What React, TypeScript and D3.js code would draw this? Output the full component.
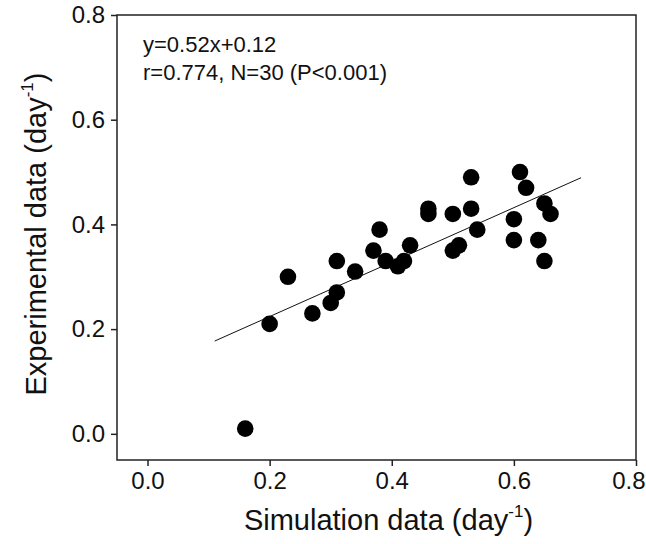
import { useEffect, useRef } from 'react';
import * as d3 from 'd3';

// Simulation (x) vs experimental (y) rates, day^-1
const simulation = [
  0.16, 0.2, 0.23, 0.27, 0.3, 0.31, 0.31, 0.34, 0.37, 0.38, 0.39, 0.41, 0.42, 0.43, 0.46,
  0.46, 0.5, 0.5, 0.51, 0.53, 0.53, 0.54, 0.6, 0.6, 0.61, 0.62, 0.64, 0.65, 0.65, 0.66,
];
const experimental = [
  0.01, 0.21, 0.3, 0.23, 0.25, 0.27, 0.33, 0.31, 0.35, 0.39, 0.33, 0.32, 0.33, 0.36, 0.43,
  0.42, 0.42, 0.35, 0.36, 0.49, 0.43, 0.39, 0.41, 0.37, 0.5, 0.47, 0.37, 0.44, 0.33, 0.42,
];
const ticks = [0.0, 0.2, 0.4, 0.6, 0.8];
// regression y = 0.52x + 0.12, drawn over this x span
const fitSlope = 0.52;
const fitIntercept = 0.12;
const fitRange = [0.11, 0.71];
const notes = ['y=0.52x+0.12', 'r=0.774, N=30 (P<0.001)'];

const font = '"Liberation Sans", Arial, sans-serif';

const App = () => {
  const chartRef = useRef<SVGSVGElement>(null);

  useEffect(() => {
    const svg = d3.select(chartRef.current);
    svg.selectAll('*').remove();

    const left = 117,
      right = 636,
      top = 15,
      bottom = 460;

    const x = d3.scaleLinear().domain([-0.05, 0.8]).range([left, right]);
    const y = d3.scaleLinear().domain([-0.05, 0.8]).range([bottom, top]);

    // frame
    svg
      .append('rect')
      .attr('x', left)
      .attr('y', top)
      .attr('width', right - left)
      .attr('height', bottom - top)
      .attr('fill', 'none')
      .attr('stroke', '#222')
      .attr('stroke-width', 1.5);

    // X axis
    const gx = svg
      .append('g')
      .attr('transform', `translate(0,${bottom})`)
      .call(d3.axisBottom(x).tickValues(ticks).tickFormat(d3.format('.1f')).tickSize(6).tickPadding(6));
    gx.select('.domain').remove();
    gx.selectAll('line').attr('stroke', '#222').attr('stroke-width', 1.5);
    gx.selectAll('text').attr('font-family', font).attr('font-size', 24).attr('fill', '#111');
    // last label sits at the page edge, keep it inside
    gx.selectAll('.tick')
      .filter((d) => d === 0.8)
      .select('text')
      .attr('text-anchor', 'end')
      .attr('x', 645 - right);

    // Y axis
    const gy = svg
      .append('g')
      .attr('transform', `translate(${left},0)`)
      .call(d3.axisLeft(y).tickValues(ticks).tickFormat(d3.format('.1f')).tickSize(6).tickPadding(6));
    gy.select('.domain').remove();
    gy.selectAll('line').attr('stroke', '#222').attr('stroke-width', 1.5);
    gy.selectAll('text').attr('font-family', font).attr('font-size', 24).attr('fill', '#111');

    // regression line
    const line = d3
      .line<number>()
      .x((d) => x(d))
      .y((d) => y(fitSlope * d + fitIntercept));
    svg
      .append('path')
      .attr('d', line(fitRange))
      .attr('fill', 'none')
      .attr('stroke', '#111')
      .attr('stroke-width', 1);

    // points
    svg
      .append('g')
      .selectAll('circle')
      .data(simulation)
      .enter()
      .append('circle')
      .attr('cx', (d) => x(d))
      .attr('cy', (d, i) => y(experimental[i]))
      .attr('r', 8.3)
      .attr('fill', '#000');

    // annotation
    svg
      .append('g')
      .selectAll('text')
      .data(notes)
      .enter()
      .append('text')
      .attr('x', 143)
      .attr('y', (d, i) => 52 + i * 28)
      .attr('font-family', font)
      .attr('font-size', 22)
      .attr('fill', '#111')
      .text((d) => d);

    // axis titles
    const xt = svg
      .append('text')
      .attr('x', (left + right) / 2 + 12)
      .attr('y', 530)
      .attr('text-anchor', 'middle')
      .attr('font-family', font)
      .attr('font-size', 29)
      .attr('fill', '#111');
    xt.append('tspan').text('Simulation data (day');
    xt.append('tspan').attr('font-size', 17).attr('dy', -13).text('-1');
    xt.append('tspan').attr('dy', 13).text(')');

    const yt = svg
      .append('text')
      .attr('transform', 'translate(46,234) rotate(-90)')
      .attr('text-anchor', 'middle')
      .attr('font-family', font)
      .attr('font-size', 29)
      .attr('fill', '#111');
    yt.append('tspan').text('Experimental data (day');
    yt.append('tspan').attr('font-size', 17).attr('dy', -13).text('-1');
    yt.append('tspan').attr('dy', 13).text(')');

    return () => {
      d3.select(chartRef.current).selectAll('*').remove();
    };
  }, []);

  return (
    <svg
      ref={chartRef}
      width={646}
      height={544}
      style={{ position: 'absolute', left: 0, top: 0, background: '#fff' }}
    ></svg>
  );
};

export default App;
